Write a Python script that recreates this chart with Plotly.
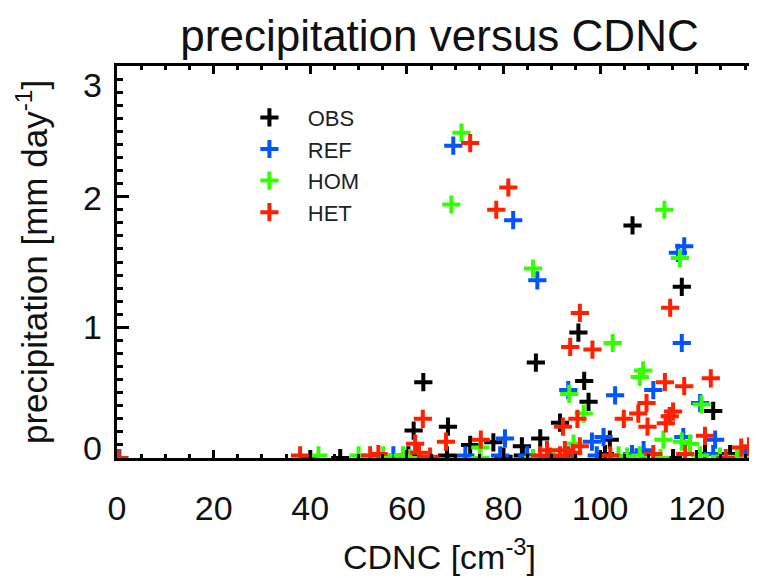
import plotly.graph_objects as go

# ---- data ----
obs_cdnc = [63.4, 61.4, 68.5, 86.7, 95.5, 96.7, 97.6, 91.7, 106.7, 116.9, 123.4, 102.0,
            87.6, 77.9, 83.8, 73.1, 40.0, 46.2, 60.3, 68.3, 84.0, 101.0, 115.1, 121.7,
            126.9, 80.0, 90.0]
obs_precip = [0.58, 0.21, 0.24, 0.73, 0.96, 0.59, 0.43, 0.27, 1.78, 1.31, 0.36, 0.14,
              0.15, 0.12, 0.09, 0.10, -0.01, 0.0, 0.02, 0.02, 0.02, 0.03, 0.0, 0.03,
              0.03, 0.01, 0.0]

ref_cdnc = [69.6, 82.0, 87.0, 117.4, 116.1, 116.9, 93.4, 103.1, 111.0, 120.7, 100.7, 98.3,
            117.2, 123.8, 80.3, 0.5, 57.2, 72.1, 79.3, 84.9, 93.4, 99.3, 106.6, 109.0,
            123.4, 130.0]
ref_precip = [2.39, 1.82, 1.36, 1.62, 1.57, 0.88, 0.52, 0.48, 0.52, 0.42, 0.16, 0.125,
              0.16, 0.14, 0.15, 0.0, 0.02, 0.02, 0.02, 0.02, 0.02, 0.02, 0.03, 0.06,
              0.03, 0.01]

hom_cdnc = [71.3, 69.2, 86.1, 113.3, 116.5, 102.6, 108.9, 108.2, 93.6, 96.6, 121.0, 113.1,
            116.9, 118.6, 94.5, 75.2, 41.7, 50.0, 55.1, 59.2, 60.7, 75.2, 86.1, 90.3,
            103.8, 105.6, 108.2, 112.5, 120.7, 124.8, 128.3, 131.6]
hom_precip = [2.49, 1.94, 1.45, 1.90, 1.53, 0.88, 0.67, 0.62, 0.49, 0.34, 0.41, 0.14,
              0.125, 0.11, 0.11, 0.08, 0.02, 0.02, 0.02, 0.02, 0.0, 0.0, 0.0, 0.0,
              0.02, 0.01, 0.02, 0.0, 0.02, 0.01, 0.01, 0.0]

het_cdnc = [73.1, 78.5, 81.0, 95.8, 114.5, 93.8, 98.4, 113.4, 117.4, 122.9, 63.3, 61.7,
            68.1, 75.3, 92.3, 95.3, 104.9, 107.9, 109.6, 109.8, 115.1, 114.4, 113.6, 121.7,
            130.8, 95.8, 92.7, 89.0, 0.3, 37.9, 52.4, 54.1, 62.5, 64.8, 87.6, 89.6,
            91.7, 94.4, 102.1, 111.0, 117.6, 126.0, 129.2]
het_precip = [2.41, 1.90, 2.07, 1.11, 1.15, 0.85, 0.83, 0.58, 0.55, 0.61, 0.30, 0.11,
              0.125, 0.14, 0.24, 0.30, 0.30, 0.34, 0.42, 0.24, 0.355, 0.32, 0.265, 0.17,
              0.09, 0.09, 0.06, 0.06, 0.0, 0.02, 0.02, 0.03, 0.04, 0.01, 0.02, 0.01,
              0.02, 0.04, 0.02, 0.03, 0.03, 0.0, 0.08]

series_names = ["OBS", "REF", "HOM", "HET"]
series_colors = ["#000000", "#0055ff", "#33ff00", "#ff2000"]

x_ticks = [0, 20, 40, 60, 80, 100, 120]
y_ticks = [0, 1, 2, 3]

SANS = "Liberation Sans, Arial, Helvetica, sans-serif"

fig = go.Figure()
pad = "\u00a0\u00a0\u00a0"
for name, col, xs, ys in zip(series_names, series_colors,
                             [obs_cdnc, ref_cdnc, hom_cdnc, het_cdnc],
                             [obs_precip, ref_precip, hom_precip, het_precip]):
    fig.add_trace(go.Scatter(
        x=xs, y=ys, mode="markers", name=pad + name,
        marker=dict(symbol="cross-thin", size=13, color=col,
                    line=dict(width=4, color=col)),
        cliponaxis=True,
    ))

axis_common = dict(showline=True, linewidth=3, linecolor="black", mirror="allticks",
                   ticks="inside", tickcolor="black", showgrid=False, zeroline=False,
                   automargin=False)

fig.update_xaxes(range=[0, 133.5], tickvals=x_ticks,
                 ticklen=8, tickwidth=3,
                 minor=dict(dtick=5, ticklen=4, tickwidth=2.5, ticks="inside", tickcolor="black"),
                 tickfont=dict(family=SANS, size=34, color="#111"),
                 ticklabelstandoff=18,
                 title=dict(text="CDNC [cm<sup>-3</sup>]", font=dict(family=SANS, size=34, color="#111"),
                            standoff=20),
                 **axis_common)
fig.update_yaxes(range=[0, 3], tickvals=y_ticks, showticklabels=False,
                 ticklen=12, tickwidth=3,
                 minor=dict(dtick=0.1, ticklen=6, tickwidth=2.5, ticks="inside", tickcolor="black"),
                 **axis_common)

# y tick labels (end labels nudged inward as in the reference)
shifts = {0: 10, 1: 0, 2: -1, 3: -19}
for v in y_ticks:
    fig.add_annotation(x=0, xref="paper", y=v, yref="y", text=str(v), showarrow=False,
                       xanchor="right", yanchor="middle", xshift=-13, yshift=shifts[v],
                       font=dict(family=SANS, size=34, color="#111"))

fig.add_annotation(x=0, xref="paper", y=0.5, yref="paper",
                   text="precipitation [mm day<sup>-1</sup>]", showarrow=False,
                   textangle=-90, xanchor="center", yanchor="middle", xshift=-85,
                   font=dict(family=SANS, size=35, color="#111"))

fig.update_layout(
    width=757, height=578,
    margin=dict(l=109, r=3, t=58, b=128),
    paper_bgcolor="white", plot_bgcolor="white",
    title=dict(text="precipitation versus CDNC", x=0.5, xref="paper", xanchor="center",
               y=0.953, yref="container", yanchor="middle",
               font=dict(family=SANS, size=44, color="#111")),
    showlegend=True,
    legend=dict(x=0.2053, y=0.922, xanchor="left", yanchor="top", bgcolor="rgba(0,0,0,0)",
                borderwidth=0, font=dict(family=SANS, size=22, color="#222"),
                tracegroupgap=0),
)

fig.write_html("out.html")
